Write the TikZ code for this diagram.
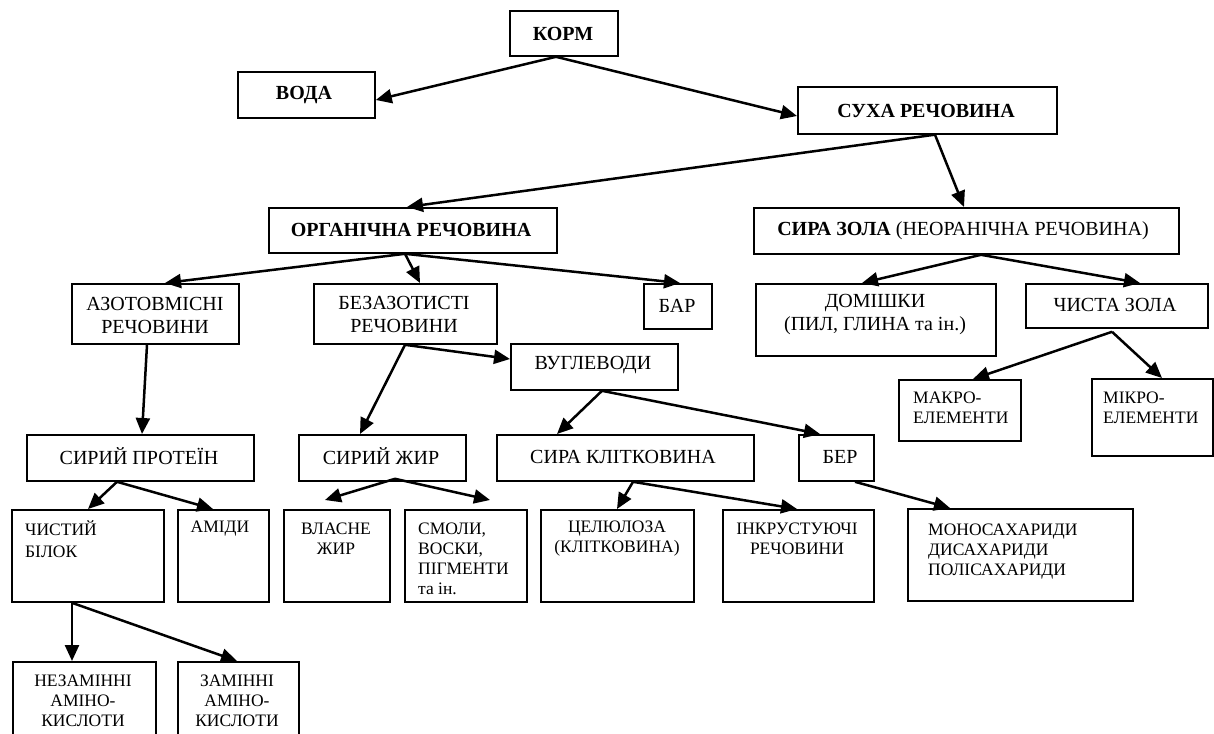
\documentclass[tikz,border=0pt]{standalone}
\usepackage{fontspec}
\setmainfont{Liberation Serif}
\usetikzlibrary{arrows.meta,calc}
\tikzset{
  box/.style={draw=black, line width=1.8pt, inner sep=0pt, anchor=north west},
  big/.style={inner sep=0pt, align=center, font=\fontsize{20}{23}\selectfont},
  bigb/.style={big, font=\fontsize{20}{23}\selectfont\bfseries},
  sml/.style={inner sep=0pt, align=center, font=\fontsize{17.5}{20}\selectfont},
  smll/.style={sml, align=left, anchor=west},
  arr/.style={line width=2.5pt, -{Triangle[length=16pt,width=14pt]}},
}
\newcommand\mybox[5]{\node[box, minimum width={(#4-#2)*1pt}, minimum height={(#5-#3)*1pt}] (#1) at (#2,#3) {};}
\begin{document}
\begin{tikzpicture}[x=1pt,y=-1pt]
\useasboundingbox (0,0) rectangle (1214,733);
\fill[white] (0,0) rectangle (1214,733);
\clip (0,0) rectangle (1214,733);
% boxes
\mybox{korm}{509}{10}{617}{55}
\mybox{voda}{237}{71}{374}{117}
\mybox{sukha}{797}{86}{1056}{133}
\mybox{org}{268}{207}{556}{252}
\mybox{zola}{753}{207}{1178}{253}
\mybox{azot}{71}{283}{238}{343}
\mybox{bez}{313}{283}{496}{343}
\mybox{bar}{643}{283}{711}{328}
\mybox{dom}{755}{283}{995}{355}
\mybox{chzola}{1025}{283}{1207}{327}
\mybox{makro}{898}{379}{1020}{440}
\mybox{mikro}{1091}{378}{1212}{455}
\mybox{vugl}{510}{343}{677}{389}
\mybox{prot}{26}{434}{253}{480}
\mybox{zhyr}{298}{434}{465}{480}
\mybox{klit}{496}{434}{753}{480}
\mybox{ber}{798}{434}{873}{480}
\mybox{bilok}{11}{509}{163}{601}
\mybox{amid}{177}{509}{268}{601}
\mybox{vlasne}{283}{509}{389}{601}
\mybox{smoly}{404}{509}{526}{601}
\mybox{cel}{540}{509}{693}{601}
\mybox{inkr}{722}{509}{873}{601}
\mybox{mono}{907}{508}{1132}{600}
\mybox{nez}{12}{661}{155}{760}
\mybox{zam}{177}{661}{298}{760}
% texts
\node[bigb] (korm-t) at (563,34) {КОРМ};
\node[bigb] (voda-t) at (304,95) {ВОДА};
\node[bigb] (sukha-t) at (926,111) {СУХА РЕЧОВИНА};
\node[bigb] (org-t) at (411,230) {ОРГАНІЧНА РЕЧОВИНА};
\node[big] (zola-t) at (963,231) {\textbf{СИРА ЗОЛА} (НЕОРАНІЧНА РЕЧОВИНА)};
\node[big] (azot-t) at (155,315) {АЗОТОВМІСНІ\\РЕЧОВИНИ};
\node[big] (bez-t) at (404,314) {БЕЗАЗОТИСТІ\\РЕЧОВИНИ};
\node[big] (bar-t) at (677,306) {БАР};
\node[big] (dom-t) at (875,315) {ДОМІШКИ\\(ПИЛ, ГЛИНА та ін.)};
\node[big] (chzola-t) at (1115,305) {ЧИСТА ЗОЛА};
\node[smll] (makro-t) at (913,408) {МАКРО-\\ЕЛЕМЕНТИ};
\node[smll] (mikro-t) at (1103,408) {МІКРО-\\ЕЛЕМЕНТИ};
\node[big] (vugl-t) at (593,365) {ВУГЛЕВОДИ};
\node[big] (prot-t) at (139,456) {СИРИЙ ПРОТЕЇН};
\node[big] (zhyr-t) at (381,456) {СИРИЙ ЖИР};
\node[big] (klit-t) at (623,457) {СИРА КЛІТКОВИНА};
\node[big] (ber-t) at (840,457) {БЕР};
\node[smll, font=\fontsize{17.5}{22.5}\selectfont] (bilok-t) at (25,539) {ЧИСТИЙ\\БІЛОК};
\node[sml] (amid-t) at (220,529) {АМІДИ};
\node[sml] (vlasne-t) at (336,539) {ВЛАСНЕ\\ЖИР};
\node[smll] (smoly-t) at (418,559) {СМОЛИ,\\ВОСКИ,\\ПІГМЕНТИ\\та ін.};
\node[sml] (cel-t) at (617,539) {ЦЕЛЮЛОЗА\\(КЛІТКОВИНА)};
\node[sml] (inkr-t) at (797,539) {ІНКРУСТУЮЧІ\\РЕЧОВИНИ};
\node[smll] (mono-t) at (928,552) {МОНОСАХАРИДИ\\ДИСАХАРИДИ\\ПОЛІСАХАРИДИ};
\node[sml] (nez-t) at (83,701) {НЕЗАМІННІ\\АМІНО-\\КИСЛОТИ};
\node[sml] (zam-t) at (237,701) {ЗАМІННІ\\АМІНО-\\КИСЛОТИ};
% connectors
\draw[arr] ($(korm.south west)+(47,0)$) -- ($(voda.north east)+(0,29)$);
\draw[arr] ($(korm.south west)+(47,0)$) -- ($(sukha.north west)+(0,30)$);
\draw[arr] ($(sukha.south west)+(137,0)$) -- ($(org.north west)+(139,0)$);
\draw[arr] ($(sukha.south west)+(138,0)$) -- ($(zola.north west)+(211,0)$);
\draw[arr] ($(org.south west)+(137,0)$) -- ($(azot.north west)+(94,0)$);
\draw[arr] ($(org.south west)+(137,0)$) -- ($(bez.north west)+(107,0)$);
\draw[arr] ($(org.south west)+(137,0)$) -- ($(bar.north west)+(37,0)$);
\draw[arr] ($(zola.south west)+(228,0)$) -- ($(dom.north west)+(107,0)$);
\draw[arr] ($(zola.south west)+(228,0)$) -- ($(chzola.north west)+(115,0)$);
\draw[arr] ($(chzola.south west)+(87,3)$) -- ($(makro.north west)+(75,0)$);
\draw[arr] ($(chzola.south west)+(87,3)$) -- ($(mikro.north west)+(71,0)$);
\draw[arr] ($(azot.south west)+(76,0)$) -- ($(prot.north west)+(116,0)$);
\draw[arr] ($(bez.south west)+(92,0)$) -- ($(zhyr.north west)+(62,0)$);
\draw[arr] ($(bez.south west)+(92,0)$) -- ($(vugl.north west)+(0,16)$);
\draw[arr] ($(vugl.south west)+(92,0)$) -- ($(klit.north west)+(61,0)$);
\draw[arr] ($(vugl.south west)+(92,0)$) -- ($(ber.north west)+(22,0)$);
\draw[arr] ($(prot.south west)+(91,0)$) -- ($(bilok.north west)+(77,0)$);
\draw[arr] ($(prot.south west)+(91,0)$) -- ($(amid.north west)+(36,0)$);
\draw[arr] ($(zhyr.south west)+(97,-3)$) -- ($(vlasne.north west)+(42,-9)$);
\draw[arr] ($(zhyr.south west)+(97,-3)$) -- ($(smoly.north west)+(86,-9)$);
\draw[arr] ($(klit.south west)+(137,0)$) -- ($(cel.north west)+(77,0)$);
\draw[arr] ($(klit.south west)+(137,0)$) -- ($(inkr.north west)+(75,0)$);
\draw[arr] ($(ber.south west)+(57,0)$) -- ($(mono.north west)+(43,0)$);
\draw[arr] ($(bilok.south west)+(61,0)$) -- ($(nez.north west)+(60,0)$);
\draw[arr] ($(bilok.south west)+(61,0)$) -- ($(zam.north west)+(60,0)$);
\end{tikzpicture}
\end{document}
